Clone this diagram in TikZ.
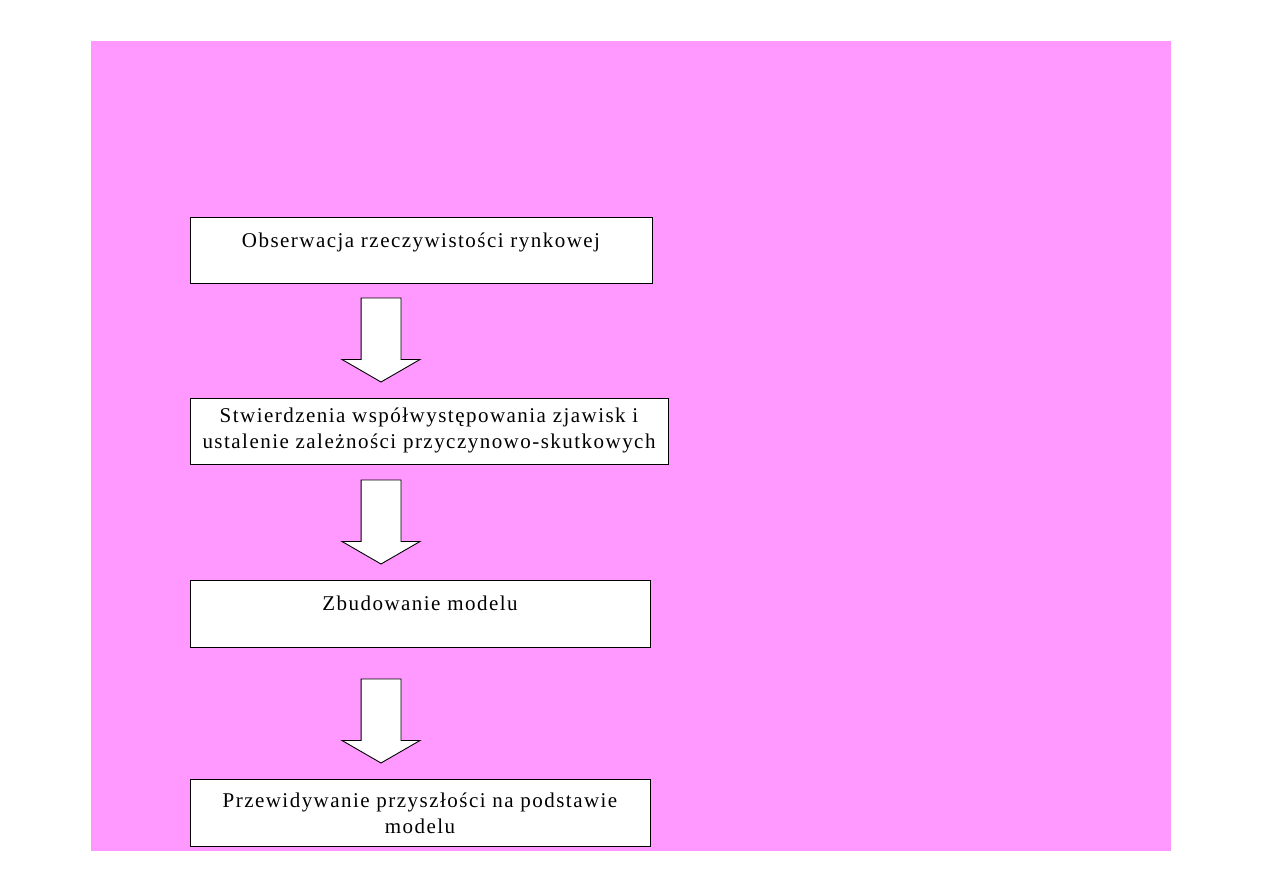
\documentclass[tikz,border=0pt]{standalone}
\usepackage{fontspec}
\setmainfont{Liberation Serif}
\usepackage{tikz}
\usetikzlibrary{positioning,shapes.arrows}
\definecolor{slidepink}{HTML}{FF99FF}

\begin{document}
\begin{tikzpicture}[
  x=1pt, y=-1pt,
  stage/.style={draw=black, line width=0.9pt, fill=white, inner sep=0pt, outer sep=0pt, minimum height=66pt, anchor=north west},
  txt/.style={anchor=north, inner sep=0pt, align=center, font=\fontsize{21}{26}\selectfont\addfontfeature{LetterSpace=7}},
  downarrow/.style={single arrow, draw=black, line width=0.9pt, fill=white, shape border rotate=270, minimum height=84pt, minimum width=77pt, single arrow head extend=19pt, single arrow tip angle=120, inner sep=19.5pt, outer sep=0pt, anchor=tail}
]
  \useasboundingbox (0,0) rectangle (1263,893);
  \fill[slidepink] (91,41) rectangle (1171,851);

  % stages
  \node[stage, minimum width=462pt, label={[txt, yshift=-16pt]north:Obserwacja rzeczywistości rynkowej}] (obs) at (190,217) {};
  \node[stage, minimum width=478pt, label={[txt, yshift=-10pt]north:Stwierdzenia współwystępowania zjawisk i\\ustalenie zależności przyczynowo-skutkowych}] (rel) at (190,398) {};
  \node[stage, minimum width=460pt, minimum height=67pt, label={[txt, yshift=-16pt]north:Zbudowanie modelu}] (mod) at (190,580) {};
  \node[stage, minimum width=460pt, minimum height=67pt, label={[txt, yshift=-14pt]north:Przewidywanie przyszłości na podstawie\\modelu}] (pred) at (190,779) {};

  % block arrows between stages
  \node[downarrow] (a1) at (381,298) {};
  \node[downarrow] (a2) at (381,480) {};
  \node[downarrow] (a3) at (381,679) {};
\end{tikzpicture}
\end{document}
